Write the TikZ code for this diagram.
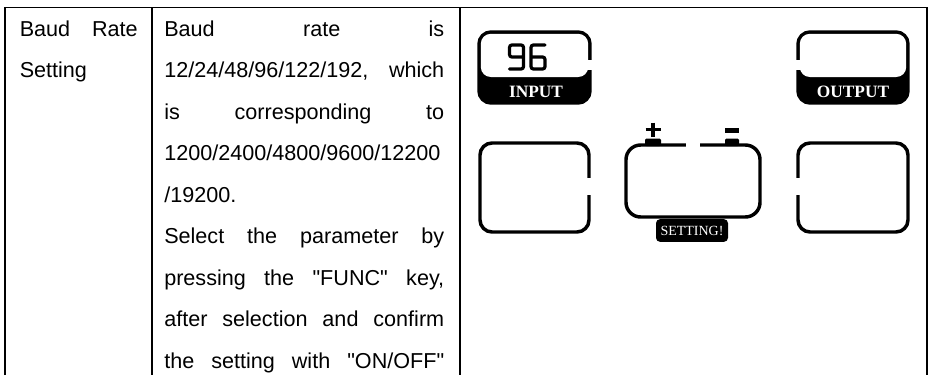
\documentclass[tikz,border=0pt]{standalone}
\usepackage{fontspec}
\setmainfont{Liberation Sans}
\newfontfamily\serifface{Liberation Serif}
\newdimen\pxu \pxu=0.75pt
\newcommand\dq{\XeTeXglyph\XeTeXcharglyph"22\relax}
\begin{document}
\begin{tikzpicture}[x=0.75pt,y=-0.75pt]
\useasboundingbox (0,0) rectangle (928,375);
\tikzset{
  tline/.style={line width=1.2pt},
  panel/.style={line width=2.6pt, rounded corners=9pt},
  innerwhite/.style={fill=white, rounded corners=7.5pt},
  txt/.style={anchor=base west, inner sep=0pt, font=\fontsize{16.2}{20}\selectfont},
  lcdlabel/.style={text=white, inner sep=0pt, font=\serifface\bfseries\fontsize{13}{14}\selectfont},
  seg/.style={line width=2.4pt, rounded corners=1.8pt, line cap=round},
  settag/.style={fill=black, text=white, rounded corners=3pt, inner sep=0pt,
    minimum width=54pt, minimum height=17pt, font=\serifface\fontsize{10.5}{12}\selectfont},
}
% table rules
\draw[tline] (5,375) -- (5,7.3) -- (926.7,7.3) -- (926.7,375);
\draw[tline] (152,7.3) -- (152,375);
\draw[tline] (460,7.3) -- (460,375);
% column 1
\node[txt] (c1a) at (19.5,36.5) {\hbox to 118\pxu{Baud\hfill Rate}};
\node[txt] (c1b) at (19.5,77.9) {Setting};
% column 2
\node[txt] (l1) at (164,36.5) {\hbox to 280\pxu{Baud\hfill rate\hfill is}};
\node[txt] (l2) at (164,77.9) {\hbox to 280\pxu{12/24/48/96/122/192,\hfill which}};
\node[txt] (l3) at (164,119.4) {\hbox to 280\pxu{is\hfill corresponding\hfill to}};
\node[txt] (l4) at (164,160.8) {1200/2400/4800/9600/12200};
\node[txt] (l5) at (164,202.3) {/19200.};
\node[txt] (l6) at (164,243.7) {\hbox to 280\pxu{Select\hfill the\hfill parameter\hfill by}};
\node[txt] (l7) at (164,285.2) {\hbox to 280\pxu{pressing\hfill the\hfill \dq FUNC\dq\hfill key,}};
\node[txt] (l8) at (164,326.6) {\hbox to 280\pxu{after\hfill selection\hfill and\hfill confirm}};
\node[txt] (l9) at (164,368.1) {\hbox to 280\pxu{the\hfill setting\hfill with\hfill \dq ON/OFF\dq}};
% INPUT panel
\filldraw[panel] (479,32) rectangle (590,103);
\fill[innerwhite] (480.8,33.8) rectangle (588.2,77);
\fill[white] (587,60) rectangle (593,70);
\node[lcdlabel] (inlab) at (536,91.5) {INPUT};
% digits 96
\draw[seg] (523.5,57) -- (509.5,57) -- (509.5,45) -- (523.5,45) -- (523.5,69) -- (509.5,69);
\draw[seg] (545,45) -- (531,45) -- (531,69) -- (545,69) -- (545,57) -- (531,57);
% OUTPUT panel
\filldraw[panel] (798,32) rectangle (908,103);
\fill[innerwhite] (799.8,33.8) rectangle (906.2,77);
\fill[white] (795,60) rectangle (801,70);
\node[lcdlabel] (outlab) at (853,91.5) {OUTPUT};
% lower side boxes
\draw[panel] (480,143) rectangle (589,232);
\fill[white] (586,178) rectangle (592,195);
\draw[panel] (798,143) rectangle (908,232);
\fill[white] (795,178) rectangle (801,195);
% middle battery box
\draw[panel, rounded corners=11pt] (626,145) rectangle (760,217);
\fill[white] (686,141) rectangle (700,149);
\fill[rounded corners=1pt] (645,138.5) rectangle (661,146);
\fill[rounded corners=1pt] (725,138.5) rectangle (739,146);
\draw[line width=2.4pt] (653,122.5) -- (653,137) (645.5,129.5) -- (660.5,129.5);
\fill (725,128) rectangle (739,132.5);
\node[settag] (setlab) at (692,230.5) {SETTING!};
\end{tikzpicture}
\end{document}
